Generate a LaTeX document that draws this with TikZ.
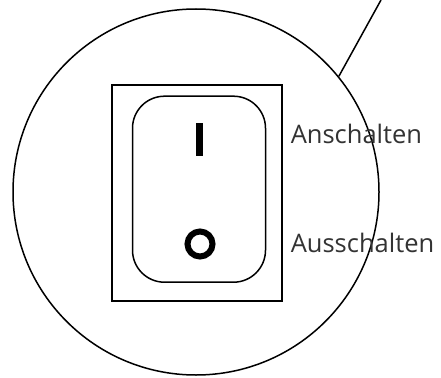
\documentclass[tikz,border=0pt]{standalone}
\usepackage{fontspec}
\setmainfont{Open Sans}
\usepackage{xcolor}
\usepackage{tikz}
\usetikzlibrary{positioning, calc}
\definecolor{Schrift}{HTML}{333333}
\definecolor{Linie}{HTML}{000000}

\begin{document}
\begin{tikzpicture}[x=1pt, y=-1pt, line width=1.5pt,
    label text/.style={anchor=base west, inner sep=0pt, text=Schrift,
      font=\fontsize{25.5}{30}\selectfont}]
      \useasboundingbox (0,0) rectangle (441,377);
      \node[draw=Linie, circle, minimum size=366pt, inner sep=0pt] (lupe) at (196,192) {};
      \coordinate (ende) at (381,0);
      \draw[Linie] (lupe.39.7) -- (ende);
      \node[draw=Linie, rectangle, minimum width=170pt, minimum height=216pt, inner sep=0pt] (rahmen) at (197,193) {};
      \node[draw=Linie, rectangle, rounded corners=32pt, minimum width=133pt, minimum height=186pt, inner sep=0pt] (wippe) at (199,189.2) {};
      \node[fill=Linie, rectangle, minimum width=7pt, minimum height=33pt, inner sep=0pt] (an) at (199,139.5) {};
      \node[draw=Linie, circle, line width=6pt, minimum size=25pt, inner sep=0pt] (aus) at (200,244) {};
      \node[label text] (anschalten) at (290,143.3) {Anschalten};
      \node[label text] (ausschalten) at (290,252.7) {Ausschalten};
    \end{tikzpicture}
\end{document}
